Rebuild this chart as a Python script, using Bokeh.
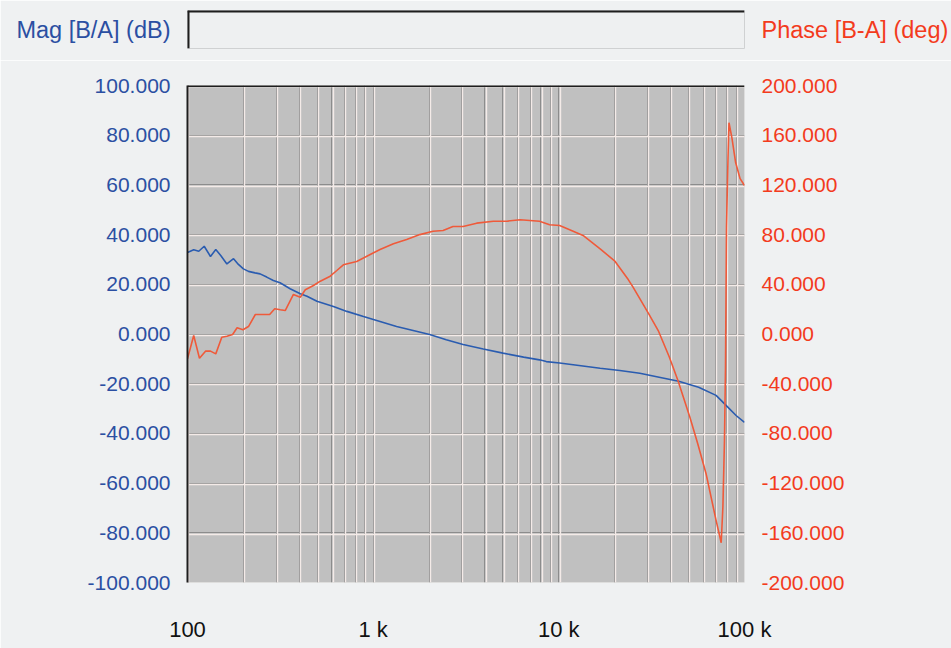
from bokeh.plotting import figure
from bokeh.models import (Range1d, LinearAxis, FixedTicker, PrintfTickFormatter,
                          Grid, Span)
from bokeh.layouts import column
from bokeh.embed import file_html
from bokeh.resources import INLINE

# ---------------- data ----------------
mag_freq = [100, 108, 115, 123, 133, 142, 151, 163, 177, 188, 200, 213, 231, 246,
            267, 290, 315, 357, 405, 440, 498, 611, 722, 887, 1089, 1337, 1642,
            2015, 2476, 3050, 3920, 5000, 6460, 7870, 8560, 10100, 12840, 16690,
            21300, 27300, 34700, 44200, 56600, 70300, 79800, 90100, 100000]
mag_db = [32.8, 33.9, 33.3, 35.3, 31.2, 34.0, 31.6, 28.2, 30.3, 28.0, 26.2, 25.2,
          24.6, 24.2, 22.9, 21.5, 20.6, 18.2, 16.2, 15.2, 13.2, 11.1, 9.1, 7.0,
          5.0, 3.0, 1.4, -0.2, -2.3, -4.2, -6.0, -7.7, -9.3, -10.4, -11.1, -11.7,
          -12.7, -13.8, -14.7, -15.8, -17.4, -19.0, -21.4, -24.7, -28.8, -32.8,
          -35.6]

phase_freq = [100, 108, 116, 125, 133, 142, 153, 163, 175, 185, 199, 213, 232, 253,
              277, 295, 316, 336, 372, 405, 431, 477, 519, 587, 637, 691, 815, 964,
              1089, 1286, 1515, 1785, 2100, 2380, 2690, 3050, 3610, 4440, 5250,
              6190, 7870, 8920, 10100, 11440, 13500, 16690, 20100, 23700, 25100,
              30500, 34300, 39400, 43800, 50800, 56000, 62100, 70300, 74900, 76500,
              78000, 79000, 79500, 80000, 81500, 82500, 85500, 89600, 94700, 100000]
phase_deg = [-20, -1.2, -19.5, -13.8, -13.8, -16, -2.6, -1.8, -0.4, 5, 3.4, 6, 15.7,
             15.7, 15.7, 20.3, 19.5, 18.9, 31.8, 29.6, 35.6, 39, 42.5, 46.5, 51.1,
             55.7, 58.3, 64, 68, 72.6, 76, 80, 82.7, 83.3, 86.5, 86.5, 89.2, 90.8,
             90.8, 91.9, 90.8, 87.9, 87.3, 83.9, 79.3, 68.6, 58.4, 43.6, 37.7, 16.2,
             2.8, -18.7, -37.4, -67, -88.4, -112.5, -150, -168, -139, -86, -27,
             29.6, 86, 142, 170, 158, 138, 125, 119.5]

x_ticks = [100, 1000, 10000, 100000]
x_tick_labels = ["100", "1 k", "10 k", "100 k"]
mag_ticks = [-100, -80, -60, -40, -20, 0, 20, 40, 60, 80, 100]
phase_ticks = [-200, -160, -120, -80, -40, 0, 40, 80, 120, 160, 200]
mag_title = "Mag [B/A] (dB)"
phase_title = "Phase [B-A] (deg)"

# ---------------- styles ----------------
BG = "#eff1f2"
PLOT_BG = "#c0c0c0"
BLUE_TXT = "#2b4fa2"
RED_TXT = "#f33b1d"
BLUE_LINE = "#2a5cb0"
RED_LINE = "#ef5a3a"
GRID_DARK = "#8c8c8c"
GRID_LIGHT = "#f4ebe8"
EDGE = "#1e1e1e"
FONT = "Liberation Sans"

W = 951
FRAME_L = 187
FRAME_R = 206

# ---------------- header strip (its frame is the empty box) ----------------
hdr = figure(width=W, height=60, x_range=Range1d(0, 1), y_range=Range1d(0, 1),
             output_backend="svg", toolbar_location=None,
             x_axis_type=None, y_axis_type=None,
             min_border_left=FRAME_L, min_border_right=FRAME_R,
             min_border_top=10, min_border_bottom=12)
hdr.background_fill_color = "#eef0f1"
hdr.border_fill_color = BG
hdr.outline_line_color = "#cfd1d2"
for side, txt, col in (("left", mag_title, BLUE_TXT),
                       ("right", phase_title, RED_TXT)):
    ax = LinearAxis(ticker=FixedTicker(ticks=[]), axis_label=txt,
                    axis_label_orientation="horizontal",
                    axis_label_text_color=col, axis_label_text_font=FONT,
                    axis_label_text_font_size="23.5px",
                    axis_label_text_font_style="normal",
                    axis_label_standoff=17, axis_line_color=None,
                    major_tick_line_color=None, minor_tick_line_color=None,
                    major_tick_out=0, major_tick_in=0, major_label_standoff=0)
    hdr.add_layout(ax, side)
hdr.add_layout(Span(location=0, dimension="height", line_color=EDGE, line_width=4))
hdr.add_layout(Span(location=1, dimension="width", line_color=EDGE, line_width=4))

# ---------------- main plot ----------------
p = figure(width=W, height=588, x_axis_type="log",
           x_range=Range1d(100, 100000), y_range=Range1d(-100, 100),
           output_backend="svg", toolbar_location=None,
           min_border_left=FRAME_L, min_border_right=FRAME_R,
           min_border_top=25, min_border_bottom=66)
p.extra_y_ranges = {"phase": Range1d(-200, 200)}
p.background_fill_color = PLOT_BG
p.border_fill_color = BG
p.outline_line_color = None

left = p.yaxis[0]
left.ticker = FixedTicker(ticks=mag_ticks)
left.formatter = PrintfTickFormatter(format="%.3f")

right = LinearAxis(y_range_name="phase")
right.ticker = FixedTicker(ticks=phase_ticks)
right.formatter = PrintfTickFormatter(format="%.3f")
p.add_layout(right, "right")

for ax, col in ((left, BLUE_TXT), (right, RED_TXT)):
    ax.major_label_text_color = col
    ax.major_label_text_font = FONT
    ax.major_label_text_font_size = "21px"
    ax.major_label_standoff = 17
    ax.major_tick_line_color = None
    ax.minor_tick_line_color = None
    ax.major_tick_out = 0
    ax.major_tick_in = 0
    ax.axis_line_color = None
left.axis_line_color = EDGE
left.axis_line_width = 2

xa = p.xaxis[0]
xa.ticker = FixedTicker(ticks=x_ticks)
xa.major_label_overrides = dict(zip(x_ticks, x_tick_labels))
xa.major_label_text_color = "#111111"
xa.major_label_text_font = FONT
xa.major_label_text_font_size = "22px"
xa.major_label_standoff = 34
xa.major_tick_line_color = None
xa.minor_tick_line_color = None
xa.major_tick_out = 0
xa.major_tick_in = 0
xa.axis_line_color = None

# grid: a dark line with a light line next to it (3D look)
grid_x = [m * 10 ** e for e in (2, 3, 4) for m in range(1, 10)] + [100000]
p.xgrid.ticker = FixedTicker(ticks=grid_x)
p.xgrid.grid_line_color = GRID_DARK
p.ygrid.ticker = FixedTicker(ticks=mag_ticks)
p.ygrid.grid_line_color = GRID_DARK
px_x = 10 ** (1.2 / 186.0)
px_y = 1.2 * 200.0 / 497.0
p.add_layout(Grid(dimension=0, ticker=FixedTicker(ticks=[t * px_x for t in grid_x]),
                  grid_line_color=GRID_LIGHT, grid_line_width=1.4))
p.add_layout(Grid(dimension=1, ticker=FixedTicker(ticks=[t - px_y for t in mag_ticks]),
                  grid_line_color=GRID_LIGHT, grid_line_width=1.4))
p.add_layout(Span(location=100, dimension="width", line_color=EDGE, line_width=3))

p.line(mag_freq, mag_db, line_color=BLUE_LINE, line_width=1.6)
p.line(phase_freq, phase_deg, y_range_name="phase", line_color=RED_LINE, line_width=1.6)

layout = column(hdr, p, spacing=0)
open("out.html", "w").write(file_html(layout, INLINE))
